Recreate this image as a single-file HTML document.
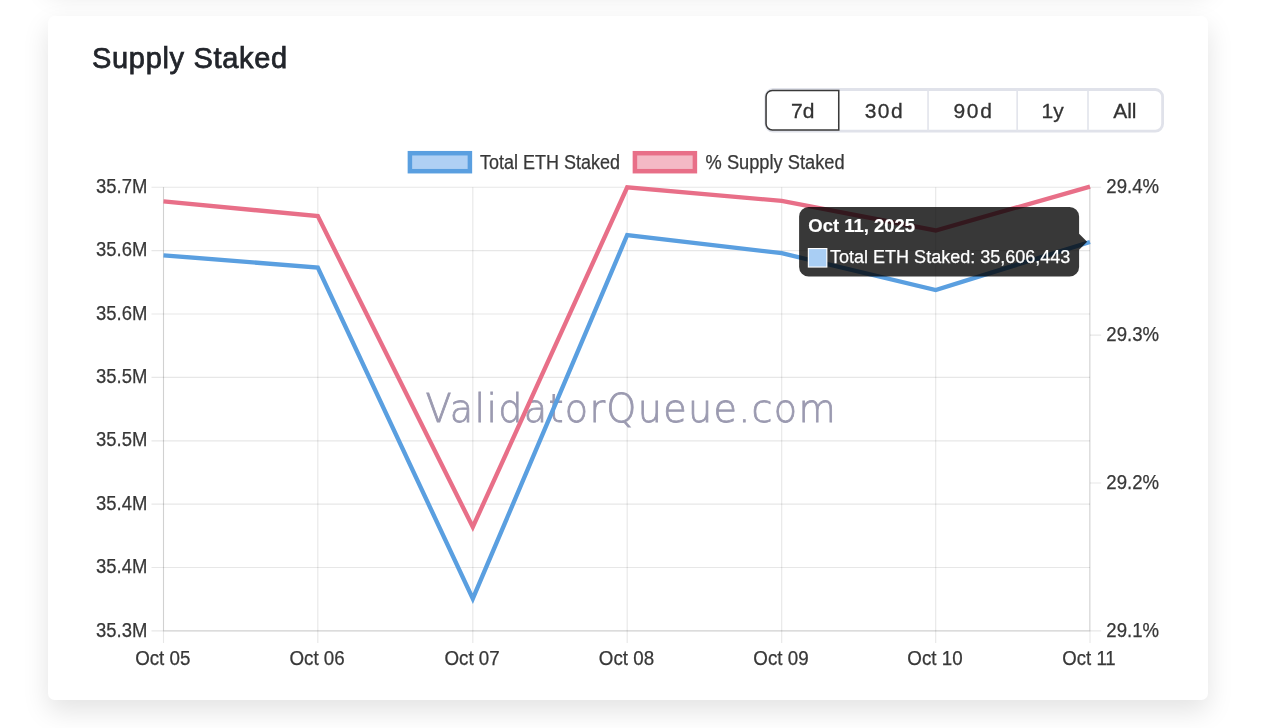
<!DOCTYPE html>
<html lang="en">
<head>
<meta charset="utf-8">
<title>Supply Staked</title>
<style>
  html, body { margin: 0; padding: 0; }
  body {
    width: 1262px; height: 728px; overflow: hidden; position: relative;
    background: #ffffff;
    font-family: "Liberation Sans", Arial, Helvetica, sans-serif;
  }
  .prev-card {
    position: absolute; left: 48px; top: -117px; width: 1160px; height: 100px;
    background: #fff; border-radius: 6.5px;
    box-shadow: 0 11px 27px rgba(0,0,0,0.115);
  }
  .card {
    position: absolute; left: 48px; top: 16px; width: 1160px; height: 683.6px;
    background: #fff; border-radius: 6.5px;
    box-shadow: 0 11px 27px rgba(0,0,0,0.115);
  }
  h2.title {
    position: absolute; left: 92px; top: 41px; margin: 0;
    font-size: 29px; line-height: 34px; font-weight: 400; color: #22252b;
    letter-spacing: 0.68px;
    -webkit-text-stroke: 0.75px #22252b;
    white-space: nowrap;
  }
  svg.chart { position: absolute; left: 0; top: 0; }
  svg.chart text { font-family: "Liberation Sans", Arial, Helvetica, sans-serif; }
</style>
</head>
<body>
<div class="prev-card"></div>
<div class="card"></div>
<h2 class="title">Supply Staked</h2>
<svg class="chart" width="1262" height="728" viewBox="0 0 1262 728">
  <!-- range buttons -->
  <g class="range">
    <rect x="765.8" y="89.5" width="396.8" height="41.6" rx="7.3" fill="#fff" stroke="#e0e2ea" stroke-width="2.8"/>
    <path d="M928.05 89.5V131.1M1017.15 89.5V131.1M1088 89.5V131.1" stroke="#e2e4ec" stroke-width="1.6" fill="none"/>
    <path d="M838.75 90.45H772.3a6.25 6.25 0 0 0 -6.25 6.25V123.7a6.25 6.25 0 0 0 6.25 6.25H838.75Z" fill="#fff" stroke="#3a3a3a" stroke-width="1.55"/>
    <g font-size="21" fill="#333" stroke="#333" stroke-width="0.3" text-anchor="middle">
      <text x="802.75" y="118.2">7d</text>
      <text x="884.4" y="118.2" letter-spacing="1.4">30d</text>
      <text x="973.5" y="118.2" letter-spacing="1.6">90d</text>
      <text x="1052.6" y="118.2">1y</text>
      <text x="1124.8" y="118.2">All</text>
    </g>
  </g>
  <!-- grid -->
  <g stroke="#000" stroke-opacity="0.095" stroke-width="1.15" fill="none">
    <path d="M151.5 187.2H1090M151.5 250.6H1090M151.5 314H1090M151.5 377.4H1090M151.5 440.8H1090M151.5 504.1H1090M151.5 567.5H1090M151.5 630.8H1090"/>
    <path d="M163.5 187.2V643M317.8 187.2V643M472.8 187.2V643M627.2 187.2V643M781.7 187.2V643M935.7 187.2V643M1090 187.2V643"/>
    <path d="M1090 187.2H1101.2M1090 335.1H1101.2M1090 483H1101.2M1090 630.8H1101.2"/>
    <path d="M163.5 187.2V630.8M163.5 630.8H1090M1089.7 187.2V630.8"/>
  </g>
  <!-- watermark -->
  <text x="425.4" y="422" font-size="38.2" fill="#9b9ab0" stroke="#9b9ab0" stroke-width="0.8" textLength="410.3" lengthAdjust="spacing" style="font-family:'DejaVu Sans Light','DejaVu Sans',sans-serif;font-weight:200">ValidatorQueue.com</text>
  <!-- legend -->
  <rect x="409.9" y="153.2" width="60" height="18" fill="#afd0f4" stroke="#5a9fe0" stroke-width="4.5"/>
  <text x="480.1" y="168.5" font-size="19.4" fill="#383838" stroke="#383838" stroke-width="0.25" textLength="139.8" lengthAdjust="spacingAndGlyphs">Total ETH Staked</text>
  <rect x="634.9" y="153.2" width="60" height="18" fill="#f4b9c5" stroke="#e86f88" stroke-width="4.5"/>
  <text x="705.6" y="168.5" font-size="19.4" fill="#383838" stroke="#383838" stroke-width="0.25" textLength="139" lengthAdjust="spacingAndGlyphs">% Supply Staked</text>
  <!-- axis labels -->
  <g font-size="19.6" fill="#383838" stroke="#383838" stroke-width="0.25" text-anchor="end" class="tl">
    <text x="147.3" y="192.8" textLength="51.3" lengthAdjust="spacingAndGlyphs">35.7M</text>
    <text x="147.3" y="256.2" textLength="51.3" lengthAdjust="spacingAndGlyphs">35.6M</text>
    <text x="147.3" y="319.6" textLength="51.3" lengthAdjust="spacingAndGlyphs">35.6M</text>
    <text x="147.3" y="383.0" textLength="51.3" lengthAdjust="spacingAndGlyphs">35.5M</text>
    <text x="147.3" y="446.4" textLength="51.3" lengthAdjust="spacingAndGlyphs">35.5M</text>
    <text x="147.3" y="509.8" textLength="51.3" lengthAdjust="spacingAndGlyphs">35.4M</text>
    <text x="147.3" y="573.2" textLength="51.3" lengthAdjust="spacingAndGlyphs">35.4M</text>
    <text x="147.3" y="636.6" textLength="51.3" lengthAdjust="spacingAndGlyphs">35.3M</text>
  </g>
  <g font-size="19.6" fill="#383838" stroke="#383838" stroke-width="0.25" text-anchor="start" class="tr">
    <text x="1106.3" y="192.8" textLength="52.7" lengthAdjust="spacingAndGlyphs">29.4%</text>
    <text x="1106.3" y="340.7" textLength="52.7" lengthAdjust="spacingAndGlyphs">29.3%</text>
    <text x="1106.3" y="488.6" textLength="52.7" lengthAdjust="spacingAndGlyphs">29.2%</text>
    <text x="1106.3" y="636.6" textLength="52.7" lengthAdjust="spacingAndGlyphs">29.1%</text>
  </g>
  <g font-size="19.6" fill="#383838" stroke="#383838" stroke-width="0.25" text-anchor="middle" class="tx">
    <text x="162.8" y="664.7" textLength="55.3" lengthAdjust="spacingAndGlyphs">Oct 05</text>
    <text x="317.1" y="664.7" textLength="55.3" lengthAdjust="spacingAndGlyphs">Oct 06</text>
    <text x="472.1" y="664.7" textLength="55.3" lengthAdjust="spacingAndGlyphs">Oct 07</text>
    <text x="626.5" y="664.7" textLength="55.3" lengthAdjust="spacingAndGlyphs">Oct 08</text>
    <text x="781.0" y="664.7" textLength="55.3" lengthAdjust="spacingAndGlyphs">Oct 09</text>
    <text x="935.0" y="664.7" textLength="55.3" lengthAdjust="spacingAndGlyphs">Oct 10</text>
    <text x="1089" y="664.7" textLength="53.4" lengthAdjust="spacingAndGlyphs">Oct 11</text>
  </g>
  <!-- lines -->
  <polyline fill="none" stroke="#5a9fe0" stroke-width="4.35" stroke-linejoin="miter" points="163.5,255.3 317.8,267.5 472.8,598.7 627.2,235 781.7,253.2 935.7,290 1090,242"/>
  <polyline fill="none" stroke="#e86f88" stroke-width="4.35" stroke-linejoin="miter" points="163.5,201.4 317.8,216.1 472.8,527 627.2,187.4 781.7,200.9 935.7,230.5 1090,186.6"/>
  <!-- tooltip -->
  <g>
    <path d="M808.7 207H1069.5a9.6 9.6 0 0 1 9.6 9.6V233.7L1087.1 241.7L1079.1 249.7V267a9.6 9.6 0 0 1 -9.6 9.6H808.7a9.6 9.6 0 0 1 -9.6 -9.6V216.6a9.6 9.6 0 0 1 9.6 -9.6Z" fill="#000" fill-opacity="0.78"/>
    <text x="808.3" y="231.9" font-size="19.2" font-weight="700" fill="#fff" stroke="#fff" stroke-width="0.2" textLength="106.6" lengthAdjust="spacingAndGlyphs">Oct 11, 2025</text>
    <rect x="807.8" y="248" width="19.6" height="19.6" fill="#fff"/>
    <rect x="808.9" y="249.1" width="17.4" height="17.4" fill="#a9cef4"/>
    <text x="830" y="263" font-size="19.2" fill="#fff" stroke="#fff" stroke-width="0.25" textLength="240.4" lengthAdjust="spacingAndGlyphs">Total ETH Staked: 35,606,443</text>
  </g>
</svg>
</body>
</html>
